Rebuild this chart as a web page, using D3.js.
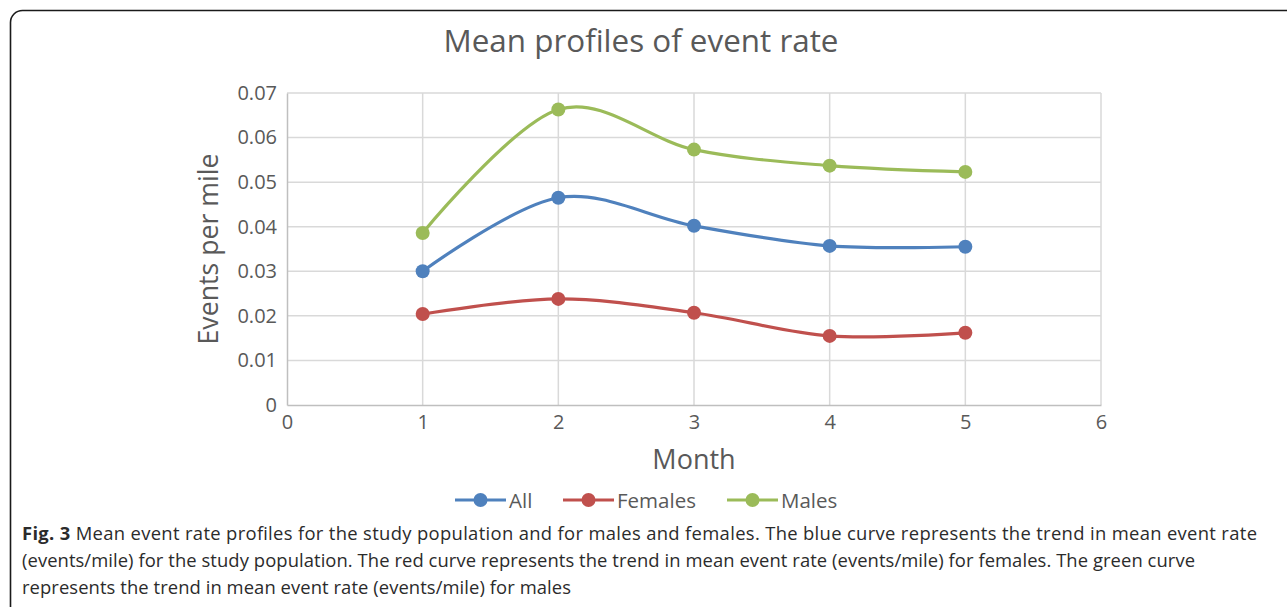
<!DOCTYPE html>
<html>
<head>
<meta charset="utf-8">
<script src="https://cdn.jsdelivr.net/npm/d3@7"></script>
<style>
  html, body { margin: 0; padding: 0; background: #fff; }
  svg { display: block; }
</style>
</head>
<body>
<svg id="chart" width="1287" height="607"></svg>
<script>
const months = [1, 2, 3, 4, 5];
const allValues = [0.0300, 0.0465, 0.0402, 0.0357, 0.0355];
const femalesValues = [0.0204, 0.0238, 0.0207, 0.0155, 0.0162];
const malesValues = [0.0386, 0.0663, 0.0573, 0.0537, 0.0523];
const seriesNames = ["All", "Females", "Males"];
const seriesColors = ["#4F81BD", "#C0504D", "#9BBB59"];
const xTicks = [0, 1, 2, 3, 4, 5, 6];
const yTicks = [0, 0.01, 0.02, 0.03, 0.04, 0.05, 0.06, 0.07];
const titleText = "Mean profiles of event rate";
const xTitle = "Month";
const yTitle = "Events per mile";
const captionLines = [
  ["Fig. 3", " Mean event rate profiles for the study population and for males and females. The blue curve represents the trend in mean event rate"],
  ["", "(events/mile) for the study population. The red curve represents the trend in mean event rate (events/mile) for females. The green curve"],
  ["", "represents the trend in mean event rate (events/mile) for males"]
];
const captionWidths = [1235, 1173, 549];

(function () {
const series = [allValues, femalesValues, malesValues];
const svg = d3.select("#chart");
const font = "'Open Sans', 'Noto Sans', sans-serif";
const textColor = "#595959";

// outer frame
svg.append("rect")
  .attr("x", 10.5).attr("y", 10.5)
  .attr("width", 1300).attr("height", 620)
  .attr("rx", 12).attr("ry", 12)
  .attr("fill", "none").attr("stroke", "#1a1a1a").attr("stroke-width", 1.6);

const pLeft = 287, pRight = 1101, pTop = 93, pBottom = 405;
const x = d3.scaleLinear().domain([0, 6]).range([pLeft, pRight]);
const y = d3.scaleLinear().domain([0, 0.07]).range([pBottom, pTop]);

// gridlines
const grid = svg.append("g");
grid.selectAll("line.h").data(yTicks.filter(d => d > 0)).enter().append("line")
  .attr("x1", pLeft).attr("x2", pRight)
  .attr("y1", d => y(d)).attr("y2", d => y(d))
  .attr("stroke", "#d9d9d9").attr("stroke-width", 1.5);
grid.selectAll("line.v").data(xTicks.filter(d => d > 0)).enter().append("line")
  .attr("x1", d => x(d)).attr("x2", d => x(d))
  .attr("y1", pTop).attr("y2", pBottom)
  .attr("stroke", "#d9d9d9").attr("stroke-width", 1.5);

// axes
const yAxis = d3.axisLeft(y).tickValues(yTicks).tickSize(0).tickPadding(10)
  .tickFormat(d => d === 0 ? "0" : d3.format(".2f")(d));
const gy = svg.append("g").attr("transform", `translate(${pLeft},0)`).call(yAxis);
gy.select(".domain").attr("stroke", "#bfbfbf").attr("stroke-width", 1.5);
gy.selectAll("text").attr("font-family", font).attr("font-size", 20).attr("fill", textColor);

const xAxis = d3.axisBottom(x).tickValues(xTicks).tickSize(0).tickPadding(10).tickFormat(d3.format("d"));
const gx = svg.append("g").attr("transform", `translate(0,${pBottom})`).call(xAxis);
gx.select(".domain").attr("stroke", "#bfbfbf").attr("stroke-width", 1.5);
gx.selectAll("text").attr("font-family", font).attr("font-size", 20).attr("fill", textColor);

// lines
const line = d3.line()
  .x((d, i) => x(months[i]))
  .y(d => y(d))
  .curve(d3.curveCardinal.tension(0));

series.forEach((vals, si) => {
  svg.append("path")
    .datum(vals)
    .attr("d", line)
    .attr("fill", "none")
    .attr("stroke", seriesColors[si])
    .attr("stroke-width", 3.2)
    .attr("stroke-linecap", "round");
  svg.append("g").selectAll("circle").data(vals).enter().append("circle")
    .attr("cx", (d, i) => x(months[i]))
    .attr("cy", d => y(d))
    .attr("r", 7)
    .attr("fill", seriesColors[si]);
});

// title
svg.append("text").attr("x", 641).attr("y", 52).attr("text-anchor", "middle")
  .attr("font-family", font).attr("font-size", 31.4).attr("fill", textColor).text(titleText);

// axis titles
svg.append("text").attr("x", x(3)).attr("y", 469).attr("text-anchor", "middle")
  .attr("font-family", font).attr("font-size", 27).attr("fill", textColor).text(xTitle);
svg.append("text").attr("transform", `translate(218,${(pTop + pBottom) / 2}) rotate(-90)`)
  .attr("text-anchor", "middle")
  .attr("font-family", font).attr("font-size", 26.7).attr("fill", textColor).text(yTitle);

// legend
const legendX = [455, 563, 727];
seriesNames.forEach((name, i) => {
  const g = svg.append("g").attr("transform", `translate(${legendX[i]},500)`);
  g.append("line").attr("x1", 0).attr("x2", 51).attr("y1", 0).attr("y2", 0)
    .attr("stroke", seriesColors[i]).attr("stroke-width", 3.2);
  g.append("circle").attr("cx", 25.5).attr("cy", 0).attr("r", 7).attr("fill", seriesColors[i]);
  g.append("text").attr("x", 54).attr("y", 7.5)
    .attr("font-family", font).attr("font-size", 20.5).attr("fill", textColor).text(name);
});

// caption
captionLines.forEach((parts, i) => {
  const t = svg.append("text").attr("x", 22).attr("y", 539.5 + i * 27.3)
    .attr("font-family", font).attr("font-size", 18.4).attr("fill", "#2b2b2b")
    .attr("textLength", captionWidths[i]).attr("lengthAdjust", "spacing");
  if (parts[0]) t.append("tspan").attr("font-weight", "bold").text(parts[0]);
  t.append("tspan").text(parts[1]);
});
})();
</script>
</body>
</html>
